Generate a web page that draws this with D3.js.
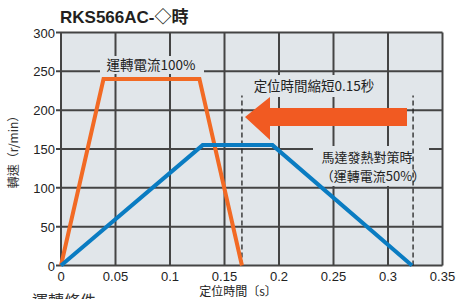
<!DOCTYPE html>
<html><head><meta charset="utf-8">
<script src="https://cdn.jsdelivr.net/npm/d3@7"></script>
<style>body{margin:0;background:#fff;}svg{display:block;}</style>
</head><body>
<script>
const xTicks = [0, 0.05, 0.1, 0.15, 0.2, 0.25, 0.3, 0.35];
const yTicks = [0, 50, 100, 150, 200, 250, 300];
const orangeTime = [0, 0.039, 0.127, 0.166];
const orangeSpeed = [0, 240, 240, 0];
const blueTime = [0, 0.13, 0.194, 0.322];
const blueSpeed = [0, 155, 155, 0];
const dashTimes = [0.166, 0.323];
const dashTop = 219;
const titleText = "RKS566AC-◇時";
const yLabel = "轉速（r/min）";
const xLabel = "定位時間〔s〕";
const label100 = "運轉電流100%";
const labelShort = "定位時間縮短0.15秒";
const labelMotor1 = "馬達發熱對策時";
const labelMotor2 = "（運轉電流50%）";
const footText = "運轉條件";

const W = 470, H = 299;
const svg = d3.select("body").append("svg").attr("width", W).attr("height", H);
const font = "'Liberation Sans', Arial, 'Noto Sans CJK TC', sans-serif";
const cjk = "'Noto Sans CJK TC', 'Noto Sans CJK SC', sans-serif";
const x = d3.scaleLinear().domain([0, 0.35]).range([61, 442.5]);
const y = d3.scaleLinear().domain([0, 300]).range([265.5, 32.5]);
const bg = "#e1e6ea";

svg.append("rect").attr("x", x(0)).attr("y", y(300)).attr("width", x(0.35) - x(0)).attr("height", y(0) - y(300)).attr("fill", bg);

const grid = svg.append("g").attr("stroke", "#444").attr("stroke-width", 2);
grid.selectAll("line.v").data(xTicks).join("line")
  .attr("x1", d => x(d)).attr("x2", d => x(d)).attr("y1", y(0)).attr("y2", y(300));
grid.selectAll("line.h").data(yTicks).join("line")
  .attr("y1", d => y(d)).attr("y2", d => y(d)).attr("x1", x(0) - 5).attr("x2", x(0.35));

function box(cx, cy, w, h) {
  svg.append("rect").attr("x", cx - w / 2).attr("y", cy - h / 2).attr("width", w).attr("height", h).attr("fill", bg);
}
box(152, 65, 104, 18);
box(314, 86, 128, 22);
box(371, 166, 116, 40);

svg.append("g").selectAll("line").data(dashTimes).join("line")
  .attr("x1", d => x(d)).attr("x2", d => x(d)).attr("y1", y(0)).attr("y2", y(dashTop))
  .attr("stroke", "#222").attr("stroke-width", 1.3).attr("stroke-dasharray", "5,3");

const line = d3.line().x(d => x(d[0])).y(d => y(d[1]));
svg.append("path").datum(orangeTime.map((t, i) => [t, orangeSpeed[i]])).attr("d", line)
  .attr("fill", "none").attr("stroke", "#f26a24").attr("stroke-width", 4);
svg.append("path").datum(blueTime.map((t, i) => [t, blueSpeed[i]])).attr("d", line)
  .attr("fill", "none").attr("stroke", "#0a7cc2").attr("stroke-width", 4);

const arrowPts = [[407, 108], [270, 108], [270, 97], [245, 117], [270, 140], [270, 126], [407, 126]];
svg.append("path").attr("d", d3.line()(arrowPts) + "Z").attr("fill", "#f15a22");

svg.append("g").selectAll("text").data(yTicks).join("text")
  .attr("x", 55).attr("y", d => y(d) + 5).attr("text-anchor", "end")
  .attr("font-family", font).attr("font-size", 13).attr("fill", "#222").text(d => d);
svg.append("g").selectAll("text").data(xTicks).join("text")
  .attr("x", d => x(d)).attr("y", 281).attr("text-anchor", "middle")
  .attr("font-family", font).attr("font-size", 13).attr("fill", "#222").text(d => d);

svg.append("text").attr("x", 60).attr("y", 23).attr("font-family", font).attr("font-size", 17)
  .attr("font-weight", "bold").attr("fill", "#231f20").text(titleText);
svg.append("text").attr("transform", "translate(18,149) rotate(-90)").attr("text-anchor", "middle")
  .attr("font-family", cjk).attr("font-size", 12).attr("fill", "#333").text(yLabel);
svg.append("text").attr("x", 238).attr("y", 295.5).attr("text-anchor", "middle")
  .attr("font-family", cjk).attr("font-size", 12).attr("fill", "#222").text(xLabel);
svg.append("text").attr("x", 32).attr("y", 307)
  .attr("font-family", cjk).attr("font-size", 16).attr("fill", "#333").text(footText);

const lab = (t, cx, by, fs) => svg.append("text").attr("x", cx).attr("y", by).attr("text-anchor", "middle")
  .attr("font-family", cjk).attr("font-size", fs).attr("fill", "#222").text(t);
lab(label100, 151, 70, 13.5);
lab(labelShort, 314, 91, 13.5);
lab(labelMotor1, 367, 162, 13);
lab(labelMotor2, 373, 181, 13);
</script>
</body></html>
